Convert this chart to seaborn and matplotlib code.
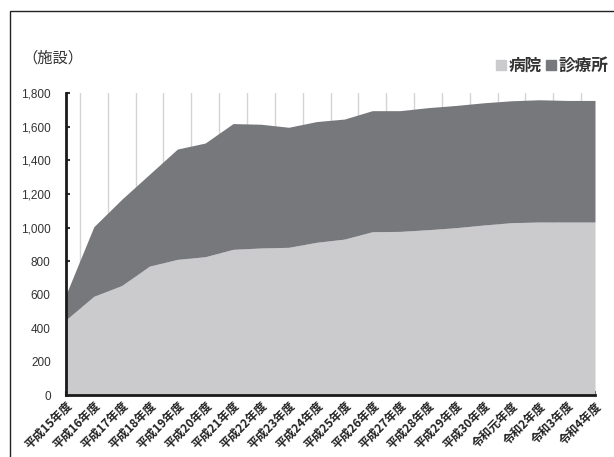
import matplotlib
matplotlib.use('Agg')
import matplotlib.pyplot as plt
import matplotlib.transforms as mtransforms
from matplotlib.patches import Rectangle
from matplotlib.ticker import FuncFormatter, MultipleLocator
import numpy as np
import pandas as pd
import seaborn as sns

# 年度
years = ['平成15年度', '平成16年度', '平成17年度', '平成18年度', '平成19年度',
         '平成20年度', '平成21年度', '平成22年度', '平成23年度', '平成24年度',
         '平成25年度', '平成26年度', '平成27年度', '平成28年度', '平成29年度',
         '平成30年度', '令和元年度', '令和2年度', '令和3年度', '令和4年度']
# 病院 (施設)
hospital = [450, 590, 654, 770, 810, 826, 870, 878, 882, 912,
            931, 975, 977, 987, 999, 1015, 1029, 1033, 1033, 1033]
# 病院+診療所 の合計
total = [600, 1005, 1168, 1318, 1468, 1504, 1620, 1616, 1598, 1632,
         1647, 1697, 1697, 1715, 1728, 1744, 1756, 1762, 1758, 1758]
clinic = [t - h for t, h in zip(total, hospital)]

df = pd.DataFrame({'year': years, '病院': hospital, '診療所': clinic})
df['pos'] = np.arange(len(df))

c_hosp = '#cbcbcd'
c_clin = '#77787c'

sns.set_theme(style='white')
plt.rcParams['font.family'] = ['Liberation Sans', 'Noto Sans CJK JP', 'DejaVu Sans']

fig = plt.figure(figsize=(6.14, 4.57), dpi=100)
ax = fig.add_axes([66 / 614, 1 - 395.2 / 457, (595 - 66) / 614, (395.2 - 93.4) / 457])

# frame around the whole picture
fig.patches.append(Rectangle((10 / 614, -0.1), 1.1, 1 - 11 / 457 + 0.1,
                             transform=fig.transFigure, fill=False,
                             edgecolor='#222222', linewidth=1.0))

ax.fill_between(df['pos'], 0, df['病院'], color=c_hosp, linewidth=0, zorder=2)
ax.fill_between(df['pos'], df['病院'], df['病院'] + df['診療所'],
                color=c_clin, linewidth=0, zorder=2)

ax.set_xlim(0, len(df) - 1)
ax.set_ylim(0, 1800)

# vertical grid every half category
ax.xaxis.set_minor_locator(MultipleLocator(0.5))
ax.grid(True, axis='x', which='minor', color='#d4d4d4', linewidth=1.0, zorder=0)
ax.grid(False, axis='y')

ax.set_xticks(df['pos'])
ax.set_xticklabels(df['year'], rotation=45, ha='right', rotation_mode='anchor',
                   fontsize=8.5, fontweight='bold', color='#222222',
                   family=['Noto Sans CJK JP'])
offset = mtransforms.ScaledTranslation(7 / 100, 0, fig.dpi_scale_trans)
for lbl in ax.get_xticklabels():
    lbl.set_transform(lbl.get_transform() + offset)

ax.set_yticks(np.arange(0, 1801, 200))
ax.yaxis.set_major_formatter(FuncFormatter(lambda v, p: f'{int(v):,}'))
ax.tick_params(axis='y', labelsize=8.5, colors='#333333', direction='in', length=3,
               width=1.5, pad=11, left=True)
ax.tick_params(axis='x', which='major', direction='in', length=3, width=1.5,
               bottom=True, pad=3)
ax.tick_params(axis='x', which='minor', length=0)
for lbl in ax.get_yticklabels():
    lbl.set_color('#333333')

for side in ['top', 'right']:
    ax.spines[side].set_visible(False)
for side in ['left', 'bottom']:
    ax.spines[side].set_color('#1a1a1a')
    ax.spines[side].set_linewidth(2)

fig.text(22 / 614, 1 - 58 / 457, '（施設）', fontsize=11, color='#333333',
         va='center', ha='left', family=['Noto Sans CJK JP'])

# legend
handles = [Rectangle((0, 0), 1, 1, color=c_hosp), Rectangle((0, 0), 1, 1, color=c_clin)]
fig.legend(handles, ['病院', '診療所'], loc='center right',
           bbox_to_anchor=(1.005, 1 - 66 / 457), ncol=2, frameon=False,
           handlelength=0.6, handleheight=0.6, handletextpad=0.15,
           columnspacing=0.3, borderpad=0,
           prop={'family': 'Noto Sans CJK JP', 'size': 12, 'weight': 'bold'},
           labelcolor='#333333')

fig.savefig('out.png', dpi=100)
